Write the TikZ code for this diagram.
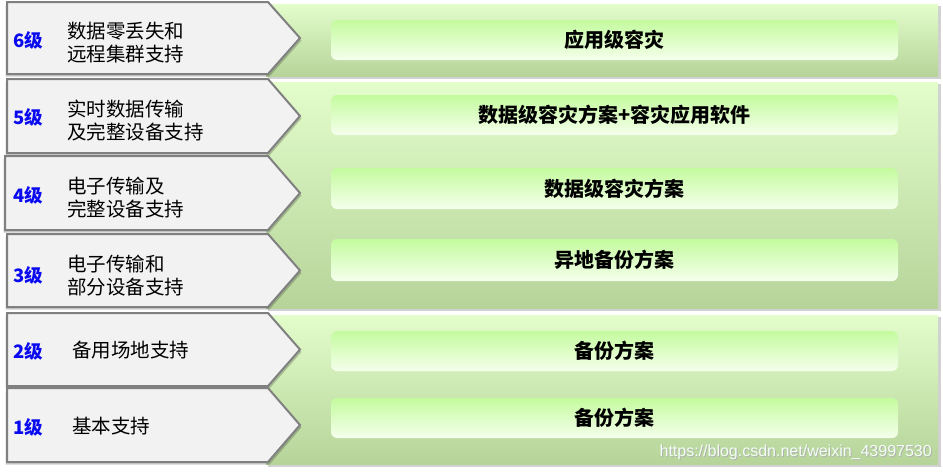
\documentclass[tikz,border=0pt]{standalone}
\usepackage{fontspec}
\setmainfont{Liberation Sans}
\newfontfamily\cjk{Noto Sans CJK SC}
\usetikzlibrary{shadings}
\definecolor{bandtop}{HTML}{E3FDCB}
\definecolor{bandmid}{HTML}{D9F5BE}
\definecolor{bandbot}{HTML}{B6D49A}
\definecolor{boxtop}{HTML}{C4FB9E}
\definecolor{boxbot}{HTML}{F5FFEC}
\definecolor{penfill}{HTML}{F2F2F2}
\definecolor{pendraw}{HTML}{808080}
\definecolor{lblblue}{HTML}{0A0AF0}
\tikzset{
  band/.style={top color=bandtop, middle color=bandmid, bottom color=bandbot},
  bandshadow/.style={fill=black, opacity=0.18},
  pent/.style={fill=penfill, draw=pendraw, line width=2pt, line join=miter},
  pentshadow/.style={fill=black, opacity=0.2},
  rbox/.style={rounded corners=6pt, top color=boxtop, bottom color=boxbot,
    minimum width=567pt, inner sep=0pt,
    font=\cjk\bfseries\fontsize{20}{24}\selectfont, text=black},
  lvl/.style={font=\cjk\bfseries\fontsize{18.5}{22}\selectfont, text=lblblue, inner sep=0pt},
  desc/.style={font=\cjk\fontsize{19.5}{23}\selectfont, align=left, anchor=west, inner sep=0pt},
  wmark/.style={font=\fontsize{16}{19}\selectfont, anchor=east, inner sep=0pt}
}
\newcommand\pentagon[4]{% name, top, bottom, left
  \fill[pentshadow] ({#4-1.5},{#2+2.5}) -- (269.5,{#2+2.5}) -- (301.5,{(#2+#3)/2+2.5}) -- (269.5,{#3+2.5}) -- ({#4-1.5},{#3+2.5}) -- cycle;
  \draw[pent] (#4,#2) -- (268,#2) -- (300,{(#2+#3)/2}) -- (268,#3) -- (#4,#3) -- cycle;
  \coordinate (#1) at ({(#4+268)/2},{(#2+#3)/2});
}
\begin{document}
\begin{tikzpicture}[x=1pt,y=-1pt]
\useasboundingbox (0,0) rectangle (943,472);
\fill[white] (0,0) rectangle (943,472);
% green bands
\fill[bandshadow] (268,6) rectangle (941,79);
\shade[band] (266,4) rectangle (938,76);
\fill[bandshadow] (268,84) rectangle (941,311);
\shade[band] (266,82) rectangle (938,308);
\fill[bandshadow] (268,317) rectangle (941,467);
\shade[band] (266,315) rectangle (938,464);
% right boxes
\node[rbox, minimum height=40pt] (b6) at (614.5,40) {应用级容灾};
\node[rbox, minimum height=40pt] (b5) at (614.5,115) {数据级容灾方案+容灾应用软件};
\node[rbox, minimum height=41pt] (b4) at (614.5,188.5) {数据级容灾方案};
\node[rbox, minimum height=42pt] (b3) at (614.5,260) {异地备份方案};
\node[rbox, minimum height=40pt] (b2) at (614.5,351) {备份方案};
\node[rbox, minimum height=40pt] (b1) at (614.5,418) {备份方案};
% left pentagons
\pentagon{p6}{2}{74}{7}
\pentagon{p5}{79}{153}{7}
\pentagon{p4}{156}{230}{5}
\pentagon{p3}{234}{307}{7}
\pentagon{p2}{313}{386}{7}
\pentagon{p1}{388}{462}{7}
% level labels
\node[lvl] (l6) at (28.5,40) {6级};
\node[lvl] (l5) at (28.5,117) {5级};
\node[lvl] (l4) at (28.5,195) {4级};
\node[lvl] (l3) at (28.5,275) {3级};
\node[lvl] (l2) at (28.5,351) {2级};
\node[lvl] (l1) at (28.5,427) {1级};
% descriptions
\node[desc] (d6) at (67,42.5) {数据零丢失和\\远程集群支持};
\node[desc] (d5) at (67,121) {实时数据传输\\及完整设备支持};
\node[desc] (d4) at (67,198) {电子传输及\\完整设备支持};
\node[desc] (d3) at (67,275.5) {电子传输和\\部分设备支持};
\node[desc] (d2) at (72,350) {备用场地支持};
\node[desc] (d1) at (72,426) {基本支持};
% watermark
\node[wmark, text=black!30] at (933,453) {https://blog.csdn.net/weixin\_43997530};
\node[wmark, text=white!95!green] (wm) at (932,452) {https://blog.csdn.net/weixin\_43997530};
\end{tikzpicture}
\end{document}
